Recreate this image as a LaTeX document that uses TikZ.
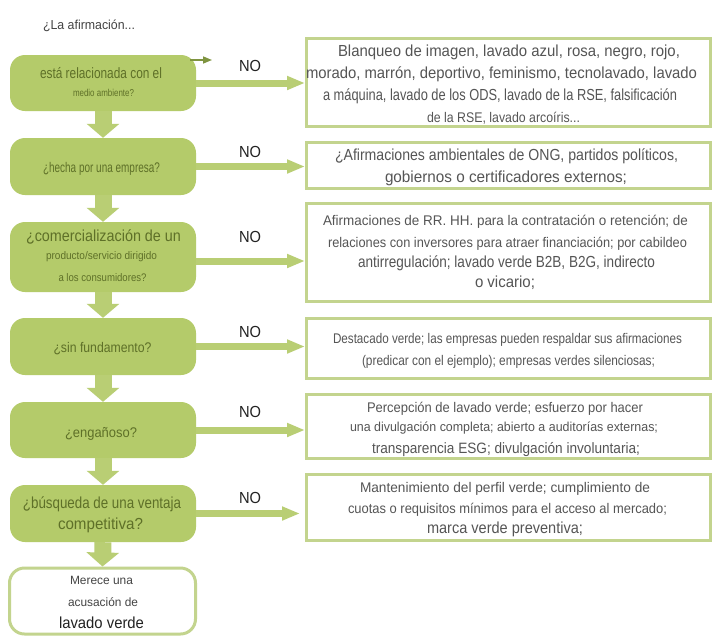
\documentclass[tikz,border=0pt]{standalone}
\usepackage{fontspec}
\setmainfont{Liberation Sans}
\usepackage{graphicx}
\usetikzlibrary{arrows.meta}
\definecolor{gfill}{HTML}{B4CB6A}
\definecolor{gline}{HTML}{C3D48E}
\definecolor{garrow}{HTML}{B9CE74}
\definecolor{darrow}{HTML}{7F9440}
\definecolor{ltext}{HTML}{5E7028}
\definecolor{rtext}{HTML}{555555}
\definecolor{notext}{HTML}{222222}
\definecolor{htext}{HTML}{444444}
\newsavebox\fitbox
\newcommand\fitline[3]{\begingroup\fontsize{#2}{#2}\selectfont\sbox\fitbox{#3}\pgfmathsetmacro\fitratio{#1/\the\wd\fitbox}\raisebox{0pt}[0.72em][0pt]{\scalebox{\fitratio}[1]{\usebox\fitbox}}\endgroup}
\tikzset{
  gbox/.style={fill=gfill, draw=none, rounded corners=15pt, minimum width=186pt, inner sep=0pt},
  wbox/.style={fill=white, draw=gline, line width=3pt, rounded corners=15pt, minimum width=186pt, inner sep=0pt},
  rbox/.style={fill=white, draw=gline, line width=3pt, minimum width=404pt, inner sep=0pt},
  lt/.style={inner sep=0pt, text=ltext},
  rt/.style={inner sep=0pt, text=rtext},
  nolab/.style={inner sep=0pt, text=notext},
  downarrow/.style={draw=garrow, line width=17pt, -{Triangle[width=32pt,length=14pt]}},
  rightarrow/.style={draw=garrow, line width=7pt, -{Triangle[width=13pt,length=18pt]}},
}
\begin{document}
\begin{tikzpicture}[x=1pt,y=-1pt]
\useasboundingbox[fill=white] (0,0) rectangle (720,643);

% header
\node[inner sep=0pt, text=htext] (head) at (89,25) {\fitline{92}{13}{¿La afirmación...}};

% left boxes
\node[gbox, minimum height=56pt] (b1) at (103,83) {};
\node[gbox, minimum height=57pt] (b2) at (103,166.5) {};
\node[gbox, minimum height=70pt] (b3) at (103,257) {};
\node[gbox, minimum height=57pt] (b4) at (103,346.5) {};
\node[gbox, minimum height=56pt] (b5) at (103,430) {};
\node[gbox, minimum height=57pt] (b6) at (103,513.5) {};
\node[wbox, minimum height=66pt] (b7) at (102.5,601) {};

% right boxes
\node[rbox, minimum height=88pt] (r1) at (508.5,82.5) {};
\node[rbox, minimum height=46pt] (r2) at (508.5,165.5) {};
\node[rbox, minimum height=98pt] (r3) at (508.5,252.5) {};
\node[rbox, minimum height=60pt] (r4) at (508.5,348.5) {};
\node[rbox, minimum height=64pt] (r5) at (508.5,426.5) {};
\node[rbox, minimum height=66pt] (r6) at (508.5,507.5) {};

% down arrows
\draw[downarrow] (b1.south) -- (b2.north);
\draw[downarrow] (b2.south) -- (b3.north);
\draw[downarrow] (b3.south) -- (b4.north);
\draw[downarrow] (b4.south) -- (b5.north);
\draw[downarrow] (b5.south) -- (b6.north);
\draw[downarrow] (b6.south) -- (b7.north);

% right arrows
\draw[rightarrow] (b1.east) -- (b1.east -| r1.west);
\draw[rightarrow] (b2.east) -- (b2.east -| r2.west);
\draw[rightarrow] ([yshift=-4pt]b3.east) -- ([yshift=-4pt]b3.east -| r3.west);
\draw[rightarrow] (b4.east) -- (b4.east -| r4.west);
\draw[rightarrow] (b5.east) -- (b5.east -| r5.west);
\draw[rightarrow, shorten >=5pt] (b6.east) -- (b6.east -| r6.west);

% small arrow
\coordinate (sa) at (190,60);
\coordinate (se) at (212,60);
\draw[darrow, line width=1.5pt, -{Triangle[width=7pt,length=9pt]}] (sa) -- (se);

% NO labels
\node[nolab] (no1) at (250,66) {\fitline{22}{16}{NO}};
\node[nolab] (no2) at (250,152) {\fitline{22}{16}{NO}};
\node[nolab] (no3) at (250,237) {\fitline{22}{16}{NO}};
\node[nolab] (no4) at (250,332) {\fitline{22}{16}{NO}};
\node[nolab] (no5) at (250,412) {\fitline{22}{16}{NO}};
\node[nolab] (no6) at (250,498) {\fitline{22}{16}{NO}};

% left texts
\node[lt] (t1a) at (101,73) {\fitline{122}{15}{está relacionada con el}};
\node[lt] (t1b) at (103.5,93) {\fitline{61}{10}{medio ambiente?}};
\node[lt] (t2a) at (101.5,167) {\fitline{117}{14}{¿hecha por una empresa?}};
\node[lt] (t3a) at (103.5,236) {\fitline{155}{16}{¿comercialización de un}};
\node[lt] (t3b) at (101.5,256) {\fitline{111}{11}{producto/servicio dirigido}};
\node[lt] (t3c) at (102.5,278) {\fitline{88}{11}{a los consumidores?}};
\node[lt] (t4a) at (102.5,347) {\fitline{98}{14}{¿sin fundamento?}};
\node[lt] (t5a) at (101,432) {\fitline{72}{14}{¿engañoso?}};
\node[lt] (t6a) at (102,503) {\fitline{158}{16}{¿búsqueda de una ventaja}};
\node[lt] (t6b) at (100.5,524) {\fitline{85}{16}{competitiva?}};
\node[inner sep=0pt, text=htext] (t7a) at (101.5,580) {\fitline{63}{12}{Merece una}};
\node[inner sep=0pt, text=htext] (t7b) at (103,602) {\fitline{70}{12}{acusación de}};
\node[inner sep=0pt, text=notext] (t7c) at (101.5,623) {\fitline{85}{16}{lavado verde}};

% right texts
\node[rt] (s1a) at (509,51) {\fitline{342}{16}{Blanqueo de imagen, lavado azul, rosa, negro, rojo,}};
\node[rt] (s1b) at (501.5,73) {\fitline{391}{16}{morado, marrón, deportivo, feminismo, tecnolavado, lavado}};
\node[rt] (s1c) at (500,95) {\fitline{354}{16}{a máquina, lavado de los ODS, lavado de la RSE, falsificación}};
\node[rt] (s1d) at (503.5,117) {\fitline{153}{14}{de la RSE, lavado arcoíris...}};

\node[rt] (s2a) at (506.5,155) {\fitline{343}{16}{¿Afirmaciones ambientales de ONG, partidos políticos,}};
\node[rt] (s2b) at (506,177) {\fitline{242}{16}{gobiernos o certificadores externos;}};

\node[rt] (s3a) at (505.5,220) {\fitline{365}{14}{Afirmaciones de RR. HH. para la contratación o retención; de}};
\node[rt] (s3b) at (507.5,242) {\fitline{359}{14}{relaciones con inversores para atraer financiación; por cabildeo}};
\node[rt] (s3c) at (506.5,262) {\fitline{297}{16}{antirregulación; lavado verde B2B, B2G, indirecto}};
\node[rt] (s3d) at (505,282) {\fitline{60}{16}{o vicario;}};

\node[rt] (s4a) at (507.5,338) {\fitline{349}{14}{Destacado verde; las empresas pueden respaldar sus afirmaciones}};
\node[rt] (s4b) at (508.5,360) {\fitline{293}{14}{(predicar con el ejemplo); empresas verdes silenciosas;}};

\node[rt] (s5a) at (505,407) {\fitline{276}{14}{Percepción de lavado verde; esfuerzo por hacer}};
\node[rt] (s5b) at (504,427) {\fitline{308}{13}{una divulgación completa; abierto a auditorías externas;}};
\node[rt] (s5c) at (506,448) {\fitline{268}{15}{transparencia ESG; divulgación involuntaria;}};

\node[rt] (s6a) at (505,487) {\fitline{290}{14}{Mantenimiento del perfil verde; cumplimiento de}};
\node[rt] (s6b) at (507.5,508) {\fitline{319}{14}{cuotas o requisitos mínimos para el acceso al mercado;}};
\node[rt] (s6c) at (505,528) {\fitline{156}{16}{marca verde preventiva;}};
\end{tikzpicture}
\end{document}
